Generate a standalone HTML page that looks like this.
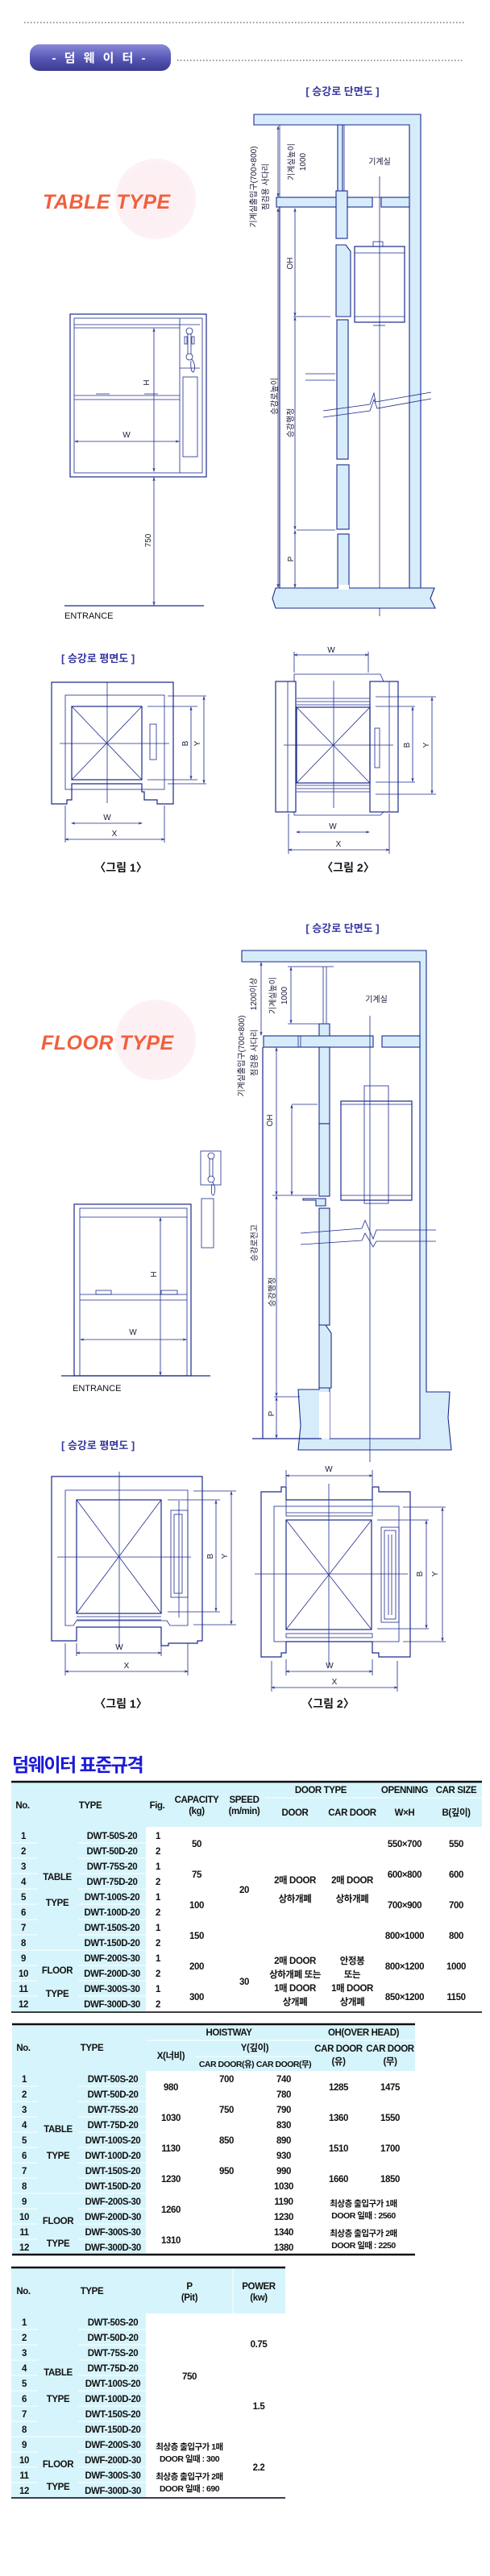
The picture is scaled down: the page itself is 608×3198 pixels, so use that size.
<!DOCTYPE html>
<html><head><meta charset="utf-8"><style>
html,body{margin:0;padding:0;background:#fff}
svg{display:block}
text{font-family:"Liberation Sans","Noto Sans CJK KR",sans-serif}
.d{stroke:#1c2a8c;stroke-width:1.2;fill:none}
.t{stroke:#1c2a8c;stroke-width:0.8;fill:none}
.f{fill:#d6ecfa;stroke:#1c2a8c;stroke-width:1.1}
.lb{font-size:10px;fill:#1a1a3a}
.tb{font-size:11.5px;font-weight:bold;fill:#111;text-anchor:middle;letter-spacing:-0.4px}
.hd{font-size:11.5px;font-weight:bold;fill:#111;text-anchor:middle;letter-spacing:-0.4px}
.sm{font-size:10.5px;font-weight:bold;fill:#111;text-anchor:middle;letter-spacing:-0.5px}
.bt{font-size:13px;font-weight:bold;fill:#3838a0}
.fg{font-size:14px;font-weight:bold;fill:#111;text-anchor:middle}
</style></head><body>
<svg width="608" height="3198" viewBox="0 0 608 3198" xmlns="http://www.w3.org/2000/svg">
<defs>
<marker id="a" markerWidth="6" markerHeight="6" refX="5" refY="3" orient="auto-start-reverse"><path d="M0,1.5 L5,3 L0,4.5" fill="none" stroke="#1c2a8c" stroke-width="0.8"/></marker>
<radialGradient id="pg" cx="0.5" cy="0.5" r="0.5"><stop offset="0" stop-color="#fdeef2"/><stop offset="1" stop-color="#fdf1f4"/></radialGradient>
<linearGradient id="pill" x1="0" y1="0" x2="0" y2="1"><stop offset="0" stop-color="#8a8ad8"/><stop offset="0.5" stop-color="#5a5ab8"/><stop offset="1" stop-color="#3a3a90"/></linearGradient>
</defs>

<!-- header -->
<line x1="30" y1="28" x2="578" y2="28" stroke="#333" stroke-width="1" stroke-dasharray="1.5,2.5"/>
<rect x="37" y="55" width="175" height="33" rx="12" fill="url(#pill)"/>
<text x="124" y="77" font-size="15" font-weight="bold" fill="#fff" text-anchor="middle" letter-spacing="3">- 덤 웨 이 터 -</text>
<line x1="220" y1="75" x2="576" y2="75" stroke="#333" stroke-width="1" stroke-dasharray="1.5,2.5"/>

<!-- ===== TABLE TYPE section ===== -->
<text x="425" y="118" class="bt" text-anchor="middle">[ 승강로 단면도 ]</text>
<circle cx="193" cy="247" r="50" fill="url(#pg)"/>
<text x="53" y="259" font-size="25" font-weight="bold" font-style="italic" fill="#f0603c" letter-spacing="0.5">TABLE TYPE</text>

<!-- front table -->
<rect x="87" y="390" width="169" height="202" class="d"/>
<rect x="92" y="395" width="159" height="192" class="t"/>
<line x1="92" y1="403" x2="223" y2="403" class="t"/><line x1="92" y1="407" x2="223" y2="407" class="t"/>
<line x1="223" y1="395" x2="223" y2="587" class="t"/>
<line x1="223" y1="403" x2="248" y2="403" class="t"/><line x1="223" y1="457" x2="248" y2="457" class="t"/>
<rect x="227" y="468" width="18" height="99" class="t"/>
<ellipse cx="235" cy="411" rx="4" ry="4" class="t"/><ellipse cx="235" cy="443" rx="4" ry="4" class="t"/>
<line x1="233" y1="414" x2="233" y2="440" class="t"/><line x1="237" y1="414" x2="237" y2="440" class="t"/>
<rect x="229" y="418" width="3" height="9" class="t"/><rect x="238" y="418" width="3" height="9" class="t"/>
<path d="M238,446 q6,8 2,16 q-4,0 -3,-14" class="t"/>
<line x1="92" y1="491" x2="223" y2="491" class="t"/><line x1="92" y1="496" x2="223" y2="496" class="t"/>
<line x1="119" y1="489" x2="136" y2="489" class="t"/><line x1="179" y1="489" x2="196" y2="489" class="t"/>
<line x1="93" y1="548" x2="222" y2="548" class="t" marker-start="url(#a)" marker-end="url(#a)"/>
<text x="157" y="543" class="lb" text-anchor="middle">W</text>
<line x1="191" y1="408" x2="191" y2="585" class="t" marker-start="url(#a)" marker-end="url(#a)"/>
<text x="185" y="475" class="lb" transform="rotate(-90 185 475)" text-anchor="middle">H</text>
<line x1="191" y1="593" x2="191" y2="751" class="t" marker-start="url(#a)" marker-end="url(#a)"/>
<text x="187" y="671" class="lb" transform="rotate(-90 187 671)" text-anchor="middle">750</text>
<line x1="80" y1="752" x2="253" y2="752" stroke="#1c2a8c" stroke-width="1.2"/>
<text x="80" y="768" font-size="11" fill="#111">ENTRANCE</text>

<!-- section 1 -->
<path d="M315,142 H522 V730 H508 V155 H315 Z" class="f"/>
<rect x="419" y="155" width="6" height="90" class="f"/>
<rect x="427" y="155" width="81" height="90" class="t"/>
<line x1="347" y1="155" x2="347" y2="245" class="t"/>
<rect x="343" y="245" width="119" height="12" class="f"/>
<rect x="473" y="245" width="35" height="12" class="f"/>
<line x1="347" y1="257" x2="347" y2="730" class="d"/>
<rect x="417" y="237" width="14" height="59" class="f"/>
<path d="M417,304 H429 L435,312 V393 H417 Z" class="f"/>
<rect x="418" y="397" width="14" height="173" class="f"/>
<rect x="418" y="577" width="15" height="80" class="f"/>
<rect x="419" y="663" width="14" height="67" class="f"/>
<rect x="440" y="306" width="62" height="94" class="d"/>
<line x1="440" y1="314" x2="502" y2="314" class="t"/><line x1="440" y1="393" x2="502" y2="393" class="t"/>
<rect x="463" y="300" width="12" height="6" class="t"/>
<line x1="463" y1="404" x2="478" y2="404" class="t"/>
<line x1="471" y1="219" x2="471" y2="765" class="t"/>
<path d="M342,730 H539 L534,743 L540,755 H342 L338,743 Z" class="f"/>
<rect x="420" y="726" width="13" height="6" fill="#fff"/>
<path d="M401,510 L459,502 L464,488 L466,499 L535,487" class="t"/>
<path d="M401,518 L459,510 L464,496 L468,507 L535,495" class="t"/>
<line x1="364" y1="393" x2="410" y2="393" class="t"/>
<line x1="379" y1="464" x2="416" y2="464" class="t"/><line x1="379" y1="472" x2="416" y2="472" class="t"/>
<line x1="368" y1="658" x2="416" y2="658" class="t"/>
<line x1="345" y1="157" x2="345" y2="244" class="t" marker-start="url(#a)" marker-end="url(#a)"/>
<line x1="345" y1="259" x2="345" y2="729" class="t" marker-start="url(#a)" marker-end="url(#a)"/>
<line x1="366" y1="259" x2="366" y2="392" class="t" marker-start="url(#a)" marker-end="url(#a)"/>
<line x1="366" y1="394" x2="366" y2="657" class="t" marker-start="url(#a)" marker-end="url(#a)"/>
<line x1="366" y1="659" x2="366" y2="729" class="t" marker-start="url(#a)" marker-end="url(#a)"/>
<text x="318" y="232" class="lb" transform="rotate(-90 318 232)" text-anchor="middle">기계실출입구(700×800)</text>
<text x="333" y="232" class="lb" transform="rotate(-90 333 232)" text-anchor="middle">점검용 사다리</text>
<text x="365" y="201" class="lb" transform="rotate(-90 365 201)" text-anchor="middle">기계실높이</text>
<text x="379" y="201" class="lb" transform="rotate(-90 379 201)" text-anchor="middle">1000</text>
<text x="471" y="204" class="lb" text-anchor="middle">기계실</text>
<text x="363" y="327" class="lb" transform="rotate(-90 363 327)" text-anchor="middle">OH</text>
<text x="344" y="492" class="lb" transform="rotate(-90 344 492)" text-anchor="middle">승강로높이</text>
<text x="364" y="525" class="lb" transform="rotate(-90 364 525)" text-anchor="middle">승강행정</text>
<text x="364" y="694" class="lb" transform="rotate(-90 364 694)" text-anchor="middle">P</text>

<!-- plan 1 -->
<text x="76" y="822" class="bt">[ 승강로 평면도 ]</text>
<path d="M64,847 H215 V998 H195 V993 H179 V983 H176 V973 H89 V993 H83 V998 H64 Z" class="d"/>
<rect x="81" y="863" width="123" height="117" class="t"/>
<rect x="89" y="877" width="87" height="91" class="d"/>
<line x1="89" y1="877" x2="176" y2="968" class="t"/><line x1="176" y1="877" x2="89" y2="968" class="t"/>
<line x1="133" y1="847" x2="133" y2="997" class="t"/><line x1="74" y1="923" x2="210" y2="923" class="t"/>
<rect x="186" y="899" width="8" height="44" class="t"/>
<line x1="183" y1="877" x2="245" y2="877" class="t"/><line x1="183" y1="968" x2="245" y2="968" class="t"/>
<line x1="208" y1="864" x2="256" y2="864" class="t"/><line x1="208" y1="973" x2="256" y2="973" class="t"/>
<line x1="237" y1="878" x2="237" y2="967" class="t" marker-start="url(#a)" marker-end="url(#a)"/>
<line x1="253" y1="865" x2="253" y2="972" class="t" marker-start="url(#a)" marker-end="url(#a)"/>
<text x="233" y="923" class="lb" transform="rotate(-90 233 923)" text-anchor="middle">B</text>
<text x="248" y="923" class="lb" transform="rotate(-90 248 923)" text-anchor="middle">Y</text>
<line x1="89" y1="1022" x2="176" y2="1022" class="t" marker-start="url(#a)" marker-end="url(#a)"/>
<text x="133" y="1018" class="lb" text-anchor="middle">W</text>
<line x1="81" y1="1042" x2="204" y2="1042" class="t" marker-start="url(#a)" marker-end="url(#a)"/>
<line x1="81" y1="1000" x2="81" y2="1046" class="t"/><line x1="204" y1="1000" x2="204" y2="1046" class="t"/>
<text x="142" y="1038" class="lb" text-anchor="middle">X</text>
<text x="150" y="1082" class="fg">〈그림 1〉</text>

<rect x="342" y="846" width="25" height="162" class="d"/><line x1="357" y1="846" x2="357" y2="1008" class="t"/>
<rect x="459" y="846" width="35" height="162" class="d"/><line x1="483" y1="846" x2="483" y2="1008" class="t"/>
<path d="M365,846 V837 H472 L476,846" class="t"/>
<path d="M365,1008 V1012 H472 L476,1008" class="t"/>
<rect x="368" y="878" width="91" height="94" class="d"/>
<line x1="368" y1="867" x2="459" y2="867" class="t"/><line x1="368" y1="871" x2="459" y2="871" class="t"/><line x1="368" y1="875" x2="459" y2="875" class="t"/>
<line x1="368" y1="975" x2="459" y2="975" class="t"/><line x1="368" y1="979" x2="459" y2="979" class="t"/><line x1="368" y1="983" x2="459" y2="983" class="t"/>
<line x1="368" y1="878" x2="459" y2="972" class="t"/><line x1="459" y1="878" x2="368" y2="972" class="t"/>
<line x1="414" y1="845" x2="414" y2="1003" class="t"/><line x1="352" y1="925" x2="488" y2="925" class="t"/>
<rect x="465" y="904" width="6" height="49" class="t"/>
<line x1="365" y1="813" x2="457" y2="813" class="t" marker-start="url(#a)" marker-end="url(#a)"/>
<line x1="365" y1="809" x2="365" y2="835" class="t"/><line x1="457" y1="809" x2="457" y2="835" class="t"/>
<text x="411" y="810" class="lb" text-anchor="middle">W</text>
<line x1="466" y1="877" x2="515" y2="877" class="t"/><line x1="466" y1="971" x2="515" y2="971" class="t"/>
<line x1="466" y1="865" x2="541" y2="865" class="t"/><line x1="466" y1="986" x2="541" y2="986" class="t"/>
<line x1="512" y1="878" x2="512" y2="970" class="t" marker-start="url(#a)" marker-end="url(#a)"/>
<line x1="536" y1="866" x2="536" y2="985" class="t" marker-start="url(#a)" marker-end="url(#a)"/>
<text x="508" y="925" class="lb" transform="rotate(-90 508 925)" text-anchor="middle">B</text>
<text x="532" y="925" class="lb" transform="rotate(-90 532 925)" text-anchor="middle">Y</text>
<line x1="368" y1="1033" x2="458" y2="1033" class="t" marker-start="url(#a)" marker-end="url(#a)"/>
<text x="413" y="1029" class="lb" text-anchor="middle">W</text>
<line x1="358" y1="1055" x2="483" y2="1055" class="t" marker-start="url(#a)" marker-end="url(#a)"/>
<line x1="358" y1="1010" x2="358" y2="1060" class="t"/><line x1="483" y1="1010" x2="483" y2="1060" class="t"/>
<text x="420" y="1051" class="lb" text-anchor="middle">X</text>
<text x="432" y="1082" class="fg">〈그림 2〉</text>

<!-- ===== FLOOR TYPE section ===== -->
<text x="425" y="1157" class="bt" text-anchor="middle">[ 승강로 단면도 ]</text>
<circle cx="193" cy="1291" r="50" fill="url(#pg)"/>
<text x="51" y="1303" font-size="25" font-weight="bold" font-style="italic" fill="#f0603c" letter-spacing="0.5">FLOOR TYPE</text>

<!-- front floor -->
<rect x="92" y="1495" width="145" height="213" class="d"/>
<rect x="99" y="1500" width="133" height="208" class="t"/>
<line x1="99" y1="1511" x2="232" y2="1511" class="t"/>
<line x1="99" y1="1607" x2="232" y2="1607" class="t"/><line x1="99" y1="1614" x2="232" y2="1614" class="t"/>
<rect x="119" y="1602" width="19" height="5" class="t"/><rect x="200" y="1602" width="20" height="5" class="t"/>
<line x1="199" y1="1512" x2="199" y2="1707" class="t" marker-start="url(#a)" marker-end="url(#a)"/>
<text x="194" y="1582" class="lb" transform="rotate(-90 194 1582)" text-anchor="middle">H</text>
<line x1="100" y1="1663" x2="231" y2="1663" class="t" marker-start="url(#a)" marker-end="url(#a)"/>
<text x="165" y="1657" class="lb" text-anchor="middle">W</text>
<line x1="76" y1="1708" x2="261" y2="1708" stroke="#1c2a8c" stroke-width="1.2"/>
<text x="90" y="1727" font-size="11" fill="#111">ENTRANCE</text>
<rect x="249" y="1429" width="25" height="42" class="t"/>
<ellipse cx="262" cy="1435" rx="4" ry="4" class="t"/><ellipse cx="262" cy="1464" rx="4" ry="4" class="t"/>
<line x1="260" y1="1438" x2="260" y2="1461" class="t"/><line x1="264" y1="1438" x2="264" y2="1461" class="t"/>
<path d="M264,1468 q5,8 1,16 q-4,0 -2,-14" class="t"/>
<rect x="250" y="1488" width="15" height="61" class="t"/>

<!-- section 2 -->
<path d="M300,1180 H529 V1728 H558 L556,1760 L560,1800 H370 L373,1770 L370,1725 H396 V1723 H409 V1786 H521 V1194 H300 Z" class="f"/>
<rect x="396" y="1728" width="13" height="58" fill="#fff"/>
<line x1="401" y1="1200" x2="401" y2="1271" class="t"/><line x1="405" y1="1200" x2="405" y2="1271" class="t"/>
<line x1="357" y1="1200" x2="414" y2="1200" class="t"/><line x1="357" y1="1271" x2="400" y2="1271" class="t"/>
<rect x="327" y="1286" width="136" height="14" class="f"/>
<rect x="474" y="1286" width="47" height="14" class="f"/>
<line x1="370" y1="1286" x2="370" y2="1300" class="t"/><line x1="373" y1="1286" x2="373" y2="1300" class="t"/>
<path d="M396,1271 H409 V1286 H396 Z" class="f"/>
<rect x="396" y="1300" width="13" height="95" class="f"/>
<rect x="396" y="1395" width="13" height="90" class="f"/>
<path d="M376,1488 H404 V1497 H392 V1490 H376 Z" class="f"/>
<rect x="396" y="1500" width="13" height="145" class="f"/>
<path d="M396,1645 H404 L411,1655 V1723 H396 Z" class="f"/>
<line x1="326" y1="1300" x2="326" y2="1786" class="d"/>
<rect x="423" y="1367" width="88" height="123" class="d"/>
<line x1="423" y1="1371" x2="511" y2="1371" class="t"/><line x1="423" y1="1484" x2="511" y2="1484" class="t"/>
<rect x="452" y="1348" width="30" height="146" class="t"/>
<line x1="459" y1="1261" x2="459" y2="1815" class="t"/>
<path d="M373,1531 L449,1525 L453,1515 L463,1538 L467,1527 L541,1527" class="t"/>
<path d="M373,1545 L449,1540 L453,1531 L463,1548 L467,1541 L541,1541" class="t"/>
<line x1="313" y1="1786" x2="399" y2="1786" class="d"/>
<line x1="340" y1="1734" x2="372" y2="1734" class="t"/>
<line x1="362" y1="1371" x2="394" y2="1371" class="t"/><line x1="338" y1="1484" x2="394" y2="1484" class="t"/>
<line x1="324" y1="1195" x2="324" y2="1285" class="t" marker-start="url(#a)" marker-end="url(#a)"/>
<line x1="361" y1="1201" x2="361" y2="1270" class="t" marker-start="url(#a)" marker-end="url(#a)"/>
<line x1="343" y1="1301" x2="343" y2="1483" class="t" marker-start="url(#a)" marker-end="url(#a)"/>
<line x1="362" y1="1372" x2="362" y2="1483" class="t" marker-start="url(#a)" marker-end="url(#a)"/>
<line x1="343" y1="1485" x2="343" y2="1733" class="t" marker-start="url(#a)" marker-end="url(#a)"/>
<line x1="343" y1="1735" x2="343" y2="1785" class="t" marker-start="url(#a)" marker-end="url(#a)"/>
<line x1="326" y1="1735" x2="326" y2="1785" class="t"/>
<text x="303" y="1311" class="lb" transform="rotate(-90 303 1311)" text-anchor="middle">기계실출입구(700×800)</text>
<text x="319" y="1307" class="lb" transform="rotate(-90 319 1307)" text-anchor="middle">점검용 사다리</text>
<text x="318" y="1234" class="lb" transform="rotate(-90 318 1234)" text-anchor="middle">1200이상</text>
<text x="342" y="1236" class="lb" transform="rotate(-90 342 1236)" text-anchor="middle">기계실높이</text>
<text x="356" y="1236" class="lb" transform="rotate(-90 356 1236)" text-anchor="middle">1000</text>
<text x="467" y="1244" class="lb" text-anchor="middle">기계실</text>
<text x="338" y="1391" class="lb" transform="rotate(-90 338 1391)" text-anchor="middle">OH</text>
<text x="319" y="1543" class="lb" transform="rotate(-90 319 1543)" text-anchor="middle">승강로전고</text>
<text x="341" y="1604" class="lb" transform="rotate(-90 341 1604)" text-anchor="middle">승강행정</text>
<text x="340" y="1755" class="lb" transform="rotate(-90 340 1755)" text-anchor="middle">P</text>

<!-- plan 2 -->
<text x="76" y="1799" class="bt">[ 승강로 평면도 ]</text>
<path d="M64,1833 H251 V2037 H245 V2040 H209 V2043 H200 V2020 H95 V2037 H64 Z" class="d"/>
<path d="M81,1850 H233 V2018 H211 L207,2012 H95 L91,2018 H81 Z" class="t"/>
<rect x="95" y="1862" width="105" height="141" class="d"/>
<line x1="95" y1="2007" x2="200" y2="2007" class="t"/><line x1="95" y1="2011" x2="200" y2="2011" class="t"/>
<line x1="95" y1="1862" x2="200" y2="2003" class="t"/><line x1="200" y1="1862" x2="95" y2="2003" class="t"/>
<line x1="148" y1="1827" x2="148" y2="2045" class="t"/><line x1="71" y1="1933" x2="237" y2="1933" class="t"/>
<rect x="212" y="1875" width="21" height="108" class="t"/><rect x="216" y="1880" width="10" height="98" class="t"/>
<line x1="222" y1="1863" x2="222" y2="2008" class="t"/>
<line x1="208" y1="1862" x2="273" y2="1862" class="t"/><line x1="208" y1="2001" x2="273" y2="2001" class="t"/>
<line x1="240" y1="1851" x2="293" y2="1851" class="t"/><line x1="240" y1="2017" x2="293" y2="2017" class="t"/>
<line x1="268" y1="1863" x2="268" y2="2000" class="t" marker-start="url(#a)" marker-end="url(#a)"/>
<line x1="287" y1="1852" x2="287" y2="2016" class="t" marker-start="url(#a)" marker-end="url(#a)"/>
<text x="264" y="1932" class="lb" transform="rotate(-90 264 1932)" text-anchor="middle">B</text>
<text x="282" y="1932" class="lb" transform="rotate(-90 282 1932)" text-anchor="middle">Y</text>
<line x1="95" y1="2052" x2="200" y2="2052" class="t" marker-start="url(#a)" marker-end="url(#a)"/>
<line x1="95" y1="2040" x2="95" y2="2056" class="t"/><line x1="200" y1="2040" x2="200" y2="2056" class="t"/>
<text x="148" y="2048" class="lb" text-anchor="middle">W</text>
<line x1="81" y1="2075" x2="233" y2="2075" class="t" marker-start="url(#a)" marker-end="url(#a)"/>
<line x1="81" y1="2040" x2="81" y2="2080" class="t"/><line x1="233" y1="2040" x2="233" y2="2080" class="t"/>
<text x="157" y="2071" class="lb" text-anchor="middle">X</text>
<text x="150" y="2120" class="fg">〈그림 1〉</text>

<path d="M324,1852 H349 V1846 H355 V1862 H462 V1846 H470 V1852 H509 V2057 H470 V2052 H462 V2038 H355 V2052 H349 V2057 H324 Z" class="d"/>
<rect x="340" y="1870" width="155" height="168" class="t"/>
<rect x="355" y="1862" width="107" height="20" class="t"/><line x1="355" y1="1878" x2="462" y2="1878" class="t"/>
<rect x="355" y="2028" width="107" height="5" class="t"/>
<rect x="355" y="1887" width="106" height="136" class="d"/>
<line x1="355" y1="1887" x2="461" y2="2023" class="t"/><line x1="461" y1="1887" x2="355" y2="2023" class="t"/>
<line x1="408" y1="1842" x2="408" y2="2070" class="t"/><line x1="316" y1="1954" x2="506" y2="1954" class="t"/>
<rect x="473" y="1896" width="22" height="118" class="t"/><rect x="477" y="1900" width="14" height="110" class="t"/>
<line x1="482" y1="1905" x2="482" y2="2005" class="t"/><line x1="486" y1="1905" x2="486" y2="2005" class="t"/>
<line x1="468" y1="1887" x2="532" y2="1887" class="t"/><line x1="468" y1="2022" x2="532" y2="2022" class="t"/>
<line x1="500" y1="1871" x2="553" y2="1871" class="t"/><line x1="500" y1="2038" x2="553" y2="2038" class="t"/>
<line x1="529" y1="1888" x2="529" y2="2021" class="t" marker-start="url(#a)" marker-end="url(#a)"/>
<line x1="549" y1="1872" x2="549" y2="2037" class="t" marker-start="url(#a)" marker-end="url(#a)"/>
<text x="524" y="1954" class="lb" transform="rotate(-90 524 1954)" text-anchor="middle">B</text>
<text x="543" y="1954" class="lb" transform="rotate(-90 543 1954)" text-anchor="middle">Y</text>
<line x1="355" y1="1832" x2="462" y2="1832" class="t" marker-start="url(#a)" marker-end="url(#a)"/>
<line x1="355" y1="1825" x2="355" y2="1845" class="t"/><line x1="462" y1="1825" x2="462" y2="1845" class="t"/>
<text x="408" y="1827" class="lb" text-anchor="middle">W</text>
<line x1="355" y1="2075" x2="462" y2="2075" class="t" marker-start="url(#a)" marker-end="url(#a)"/>
<line x1="355" y1="2060" x2="355" y2="2080" class="t"/><line x1="462" y1="2060" x2="462" y2="2080" class="t"/>
<text x="409" y="2071" class="lb" text-anchor="middle">W</text>
<line x1="337" y1="2095" x2="493" y2="2095" class="t" marker-start="url(#a)" marker-end="url(#a)"/>
<line x1="337" y1="2062" x2="337" y2="2100" class="t"/><line x1="493" y1="2062" x2="493" y2="2100" class="t"/>
<text x="415" y="2091" class="lb" text-anchor="middle">X</text>
<text x="407" y="2120" class="fg">〈그림 2〉</text>

<!-- ===== TABLES ===== -->
<text x="15" y="2199" font-size="23" font-weight="bold" fill="#1a1ad8" letter-spacing="-1.5">덤웨이터 표준규격</text>

<!-- table 1 -->
<rect x="14" y="2212" width="584" height="56" fill="#d6f4fb"/>
<rect x="14" y="2268" width="167" height="229" fill="#d6f4fb"/>
<g stroke="#fff" stroke-width="1">
<line x1="14" y1="2288" x2="47" y2="2288"/><line x1="14" y1="2307" x2="47" y2="2307"/><line x1="14" y1="2326" x2="47" y2="2326"/><line x1="14" y1="2345" x2="47" y2="2345"/><line x1="14" y1="2364" x2="47" y2="2364"/><line x1="14" y1="2383" x2="47" y2="2383"/><line x1="14" y1="2402" x2="47" y2="2402"/><line x1="14" y1="2421" x2="47" y2="2421"/><line x1="14" y1="2440" x2="47" y2="2440"/><line x1="14" y1="2459" x2="47" y2="2459"/><line x1="14" y1="2478" x2="47" y2="2478"/>
<line x1="97" y1="2288" x2="181" y2="2288"/><line x1="97" y1="2307" x2="181" y2="2307"/><line x1="97" y1="2326" x2="181" y2="2326"/><line x1="97" y1="2345" x2="181" y2="2345"/><line x1="97" y1="2364" x2="181" y2="2364"/><line x1="97" y1="2383" x2="181" y2="2383"/><line x1="97" y1="2402" x2="181" y2="2402"/><line x1="97" y1="2421" x2="181" y2="2421"/><line x1="97" y1="2440" x2="181" y2="2440"/><line x1="97" y1="2459" x2="181" y2="2459"/><line x1="97" y1="2478" x2="181" y2="2478"/>
<line x1="14" y1="2421" x2="97" y2="2421"/>
<line x1="329" y1="2232" x2="598" y2="2232"/>
</g>
<line x1="14" y1="2212" x2="598" y2="2212" stroke="#111" stroke-width="2.5"/>
<line x1="14" y1="2498" x2="598" y2="2498" stroke="#222" stroke-width="1.8"/>
<text class="hd" x="28" y="2245">No.</text><text class="hd" x="112" y="2245">TYPE</text><text class="hd" x="195" y="2245">Fig.</text>
<text class="hd" x="244" y="2238">CAPACITY</text><text class="hd" x="244" y="2252">(kg)</text>
<text class="hd" x="303" y="2238">SPEED</text><text class="hd" x="303" y="2252">(m/min)</text>
<text class="hd" x="398" y="2226">DOOR TYPE</text><text class="hd" x="502" y="2226">OPENNING</text><text class="hd" x="566" y="2226">CAR SIZE</text>
<text class="hd" x="366" y="2254">DOOR</text><text class="hd" x="437" y="2254">CAR DOOR</text><text class="hd" x="502" y="2254">W×H</text><text class="hd" x="566" y="2254">B(깊이)</text>
<g class="tb">
<text x="29" y="2283">1</text><text x="29" y="2302">2</text><text x="29" y="2321">3</text><text x="29" y="2340">4</text><text x="29" y="2359">5</text><text x="29" y="2378">6</text><text x="29" y="2397">7</text><text x="29" y="2416">8</text><text x="29" y="2435">9</text><text x="29" y="2454">10</text><text x="29" y="2473">11</text><text x="29" y="2492">12</text>
<text x="139" y="2283">DWT-50S-20</text><text x="139" y="2302">DWT-50D-20</text><text x="139" y="2321">DWT-75S-20</text><text x="139" y="2340">DWT-75D-20</text><text x="139" y="2359">DWT-100S-20</text><text x="139" y="2378">DWT-100D-20</text><text x="139" y="2397">DWT-150S-20</text><text x="139" y="2416">DWT-150D-20</text><text x="139" y="2435">DWF-200S-30</text><text x="139" y="2454">DWF-200D-30</text><text x="139" y="2473">DWF-300S-30</text><text x="139" y="2492">DWF-300D-30</text>
<text x="196" y="2283">1</text><text x="196" y="2302">2</text><text x="196" y="2321">1</text><text x="196" y="2340">2</text><text x="196" y="2359">1</text><text x="196" y="2378">2</text><text x="196" y="2397">1</text><text x="196" y="2416">2</text><text x="196" y="2435">1</text><text x="196" y="2454">2</text><text x="196" y="2473">1</text><text x="196" y="2492">2</text>
<text x="71" y="2334">TABLE</text><text x="71" y="2366">TYPE</text><text x="71" y="2450">FLOOR</text><text x="71" y="2479">TYPE</text>
<text x="244" y="2293">50</text><text x="244" y="2331">75</text><text x="244" y="2369">100</text><text x="244" y="2407">150</text><text x="244" y="2445">200</text><text x="244" y="2483">300</text>
<text x="303" y="2350">20</text><text x="303" y="2464">30</text>
<text x="366" y="2338">2매 DOOR</text><text x="366" y="2361">상하개폐</text>
<text x="437" y="2338">2매 DOOR</text><text x="437" y="2361">상하개폐</text>
<text x="366" y="2438">2매 DOOR</text><text x="366" y="2455">상하개폐 또는</text><text x="366" y="2472">1매 DOOR</text><text x="366" y="2489">상개폐</text>
<text x="437" y="2438">안정봉</text><text x="437" y="2455">또는</text><text x="437" y="2472">1매 DOOR</text><text x="437" y="2489">상개폐</text>
<text x="502" y="2293">550×700</text><text x="502" y="2331">600×800</text><text x="502" y="2369">700×900</text><text x="502" y="2407">800×1000</text><text x="502" y="2445">800×1200</text><text x="502" y="2483">850×1200</text>
<text x="566" y="2293">550</text><text x="566" y="2331">600</text><text x="566" y="2369">700</text><text x="566" y="2407">800</text><text x="566" y="2445">1000</text><text x="566" y="2483">1150</text>
</g>

<!-- table 2 -->
<rect x="15" y="2513" width="500" height="58" fill="#d6f4fb"/>
<rect x="15" y="2571" width="166" height="228" fill="#d6f4fb"/>
<g stroke="#fff" stroke-width="1">
<line x1="181" y1="2533" x2="515" y2="2533"/><line x1="243" y1="2553" x2="388" y2="2553"/>
<line x1="97" y1="2590" x2="181" y2="2590"/><line x1="97" y1="2609" x2="181" y2="2609"/><line x1="97" y1="2628" x2="181" y2="2628"/><line x1="97" y1="2647" x2="181" y2="2647"/><line x1="97" y1="2666" x2="181" y2="2666"/><line x1="97" y1="2685" x2="181" y2="2685"/><line x1="97" y1="2704" x2="181" y2="2704"/><line x1="97" y1="2723" x2="181" y2="2723"/><line x1="97" y1="2742" x2="181" y2="2742"/><line x1="97" y1="2761" x2="181" y2="2761"/><line x1="97" y1="2780" x2="181" y2="2780"/>
<line x1="15" y1="2590" x2="47" y2="2590"/><line x1="15" y1="2609" x2="47" y2="2609"/><line x1="15" y1="2628" x2="47" y2="2628"/><line x1="15" y1="2647" x2="47" y2="2647"/><line x1="15" y1="2666" x2="47" y2="2666"/><line x1="15" y1="2685" x2="47" y2="2685"/><line x1="15" y1="2704" x2="47" y2="2704"/><line x1="15" y1="2723" x2="97" y2="2723"/><line x1="15" y1="2742" x2="47" y2="2742"/><line x1="15" y1="2761" x2="47" y2="2761"/><line x1="15" y1="2780" x2="47" y2="2780"/>
</g>
<line x1="15" y1="2513" x2="515" y2="2513" stroke="#111" stroke-width="2.5"/>
<line x1="15" y1="2799" x2="515" y2="2799" stroke="#111" stroke-width="2.5"/>
<text class="hd" x="29" y="2546">No.</text><text class="hd" x="114" y="2546">TYPE</text>
<text class="hd" x="284" y="2527">HOISTWAY</text><text class="hd" x="451" y="2527">OH(OVER HEAD)</text>
<text class="hd" x="212" y="2556">X(너비)</text><text class="hd" x="316" y="2546">Y(깊이)</text>
<text class="sm" x="281" y="2566">CAR DOOR(유)</text><text class="sm" x="352" y="2566">CAR DOOR(무)</text>
<text class="hd" x="420" y="2547">CAR DOOR</text><text class="hd" x="484" y="2547">CAR DOOR</text>
<text class="hd" x="420" y="2563">(유)</text><text class="hd" x="484" y="2563">(무)</text>
<g class="tb">
<text x="30" y="2585">1</text><text x="30" y="2604">2</text><text x="30" y="2623">3</text><text x="30" y="2642">4</text><text x="30" y="2661">5</text><text x="30" y="2680">6</text><text x="30" y="2699">7</text><text x="30" y="2718">8</text><text x="30" y="2737">9</text><text x="30" y="2756">10</text><text x="30" y="2775">11</text><text x="30" y="2794">12</text>
<text x="140" y="2585">DWT-50S-20</text><text x="140" y="2604">DWT-50D-20</text><text x="140" y="2623">DWT-75S-20</text><text x="140" y="2642">DWT-75D-20</text><text x="140" y="2661">DWT-100S-20</text><text x="140" y="2680">DWT-100D-20</text><text x="140" y="2699">DWT-150S-20</text><text x="140" y="2718">DWT-150D-20</text><text x="140" y="2737">DWF-200S-30</text><text x="140" y="2756">DWF-200D-30</text><text x="140" y="2775">DWF-300S-30</text><text x="140" y="2794">DWF-300D-30</text>
<text x="72" y="2647">TABLE</text><text x="72" y="2680">TYPE</text><text x="72" y="2761">FLOOR</text><text x="72" y="2789">TYPE</text>
<text x="212" y="2595">980</text><text x="212" y="2633">1030</text><text x="212" y="2671">1130</text><text x="212" y="2709">1230</text><text x="212" y="2747">1260</text><text x="212" y="2785">1310</text>
<text x="281" y="2585">700</text><text x="281" y="2623">750</text><text x="281" y="2661">850</text><text x="281" y="2699">950</text>
<text x="352" y="2585">740</text><text x="352" y="2604">780</text><text x="352" y="2623">790</text><text x="352" y="2642">830</text><text x="352" y="2661">890</text><text x="352" y="2680">930</text><text x="352" y="2699">990</text><text x="352" y="2718">1030</text><text x="352" y="2737">1190</text><text x="352" y="2756">1230</text><text x="352" y="2775">1340</text><text x="352" y="2794">1380</text>
<text x="420" y="2595">1285</text><text x="420" y="2633">1360</text><text x="420" y="2671">1510</text><text x="420" y="2709">1660</text>
<text x="484" y="2595">1475</text><text x="484" y="2633">1550</text><text x="484" y="2671">1700</text><text x="484" y="2709">1850</text>
</g>
<g class="sm">
<text x="451" y="2739">최상층 출입구가 1매</text><text x="451" y="2754">DOOR 일때 : 2560</text>
<text x="451" y="2776">최상층 출입구가 2매</text><text x="451" y="2791">DOOR 일때 : 2250</text>
</g>

<!-- table 3 -->
<rect x="14" y="2815" width="340" height="57" fill="#d6f4fb"/>
<rect x="14" y="2872" width="167" height="229" fill="#d6f4fb"/>
<g stroke="#fff" stroke-width="1">
<line x1="97" y1="2892" x2="181" y2="2892"/><line x1="97" y1="2911" x2="181" y2="2911"/><line x1="97" y1="2930" x2="181" y2="2930"/><line x1="97" y1="2949" x2="181" y2="2949"/><line x1="97" y1="2968" x2="181" y2="2968"/><line x1="97" y1="2987" x2="181" y2="2987"/><line x1="97" y1="3006" x2="181" y2="3006"/><line x1="97" y1="3025" x2="181" y2="3025"/><line x1="97" y1="3044" x2="181" y2="3044"/><line x1="97" y1="3063" x2="181" y2="3063"/><line x1="97" y1="3082" x2="181" y2="3082"/>
<line x1="14" y1="2892" x2="47" y2="2892"/><line x1="14" y1="2911" x2="47" y2="2911"/><line x1="14" y1="2930" x2="47" y2="2930"/><line x1="14" y1="2949" x2="47" y2="2949"/><line x1="14" y1="2968" x2="47" y2="2968"/><line x1="14" y1="2987" x2="47" y2="2987"/><line x1="14" y1="3006" x2="47" y2="3006"/><line x1="14" y1="3025" x2="97" y2="3025"/><line x1="14" y1="3044" x2="47" y2="3044"/><line x1="14" y1="3063" x2="47" y2="3063"/><line x1="14" y1="3082" x2="47" y2="3082"/>
<line x1="289" y1="2815" x2="289" y2="2872"/>
</g>
<line x1="14" y1="2815" x2="354" y2="2815" stroke="#111" stroke-width="2.5"/>
<line x1="14" y1="3101" x2="354" y2="3101" stroke="#223" stroke-width="1.8"/>
<text class="hd" x="29" y="2848">No.</text><text class="hd" x="114" y="2848">TYPE</text>
<text class="hd" x="235" y="2842">P</text><text class="hd" x="235" y="2856">(Pit)</text>
<text class="hd" x="321" y="2842">POWER</text><text class="hd" x="321" y="2856">(kw)</text>
<g class="tb">
<text x="30" y="2887">1</text><text x="30" y="2906">2</text><text x="30" y="2925">3</text><text x="30" y="2944">4</text><text x="30" y="2963">5</text><text x="30" y="2982">6</text><text x="30" y="3001">7</text><text x="30" y="3020">8</text><text x="30" y="3039">9</text><text x="30" y="3058">10</text><text x="30" y="3077">11</text><text x="30" y="3096">12</text>
<text x="140" y="2887">DWT-50S-20</text><text x="140" y="2906">DWT-50D-20</text><text x="140" y="2925">DWT-75S-20</text><text x="140" y="2944">DWT-75D-20</text><text x="140" y="2963">DWT-100S-20</text><text x="140" y="2982">DWT-100D-20</text><text x="140" y="3001">DWT-150S-20</text><text x="140" y="3020">DWT-150D-20</text><text x="140" y="3039">DWF-200S-30</text><text x="140" y="3058">DWF-200D-30</text><text x="140" y="3077">DWF-300S-30</text><text x="140" y="3096">DWF-300D-30</text>
<text x="72" y="2949">TABLE</text><text x="72" y="2982">TYPE</text><text x="72" y="3063">FLOOR</text><text x="72" y="3091">TYPE</text>
<text x="235" y="2954">750</text>
<text x="321" y="2914">0.75</text><text x="321" y="2991">1.5</text><text x="321" y="3067">2.2</text>
</g>
<g class="sm">
<text x="235" y="3041">최상층 출입구가 1매</text><text x="235" y="3056">DOOR 일때 : 300</text>
<text x="235" y="3078">최상층 출입구가 2매</text><text x="235" y="3093">DOOR 일때 : 690</text>
</g>
</svg>
</body></html>
